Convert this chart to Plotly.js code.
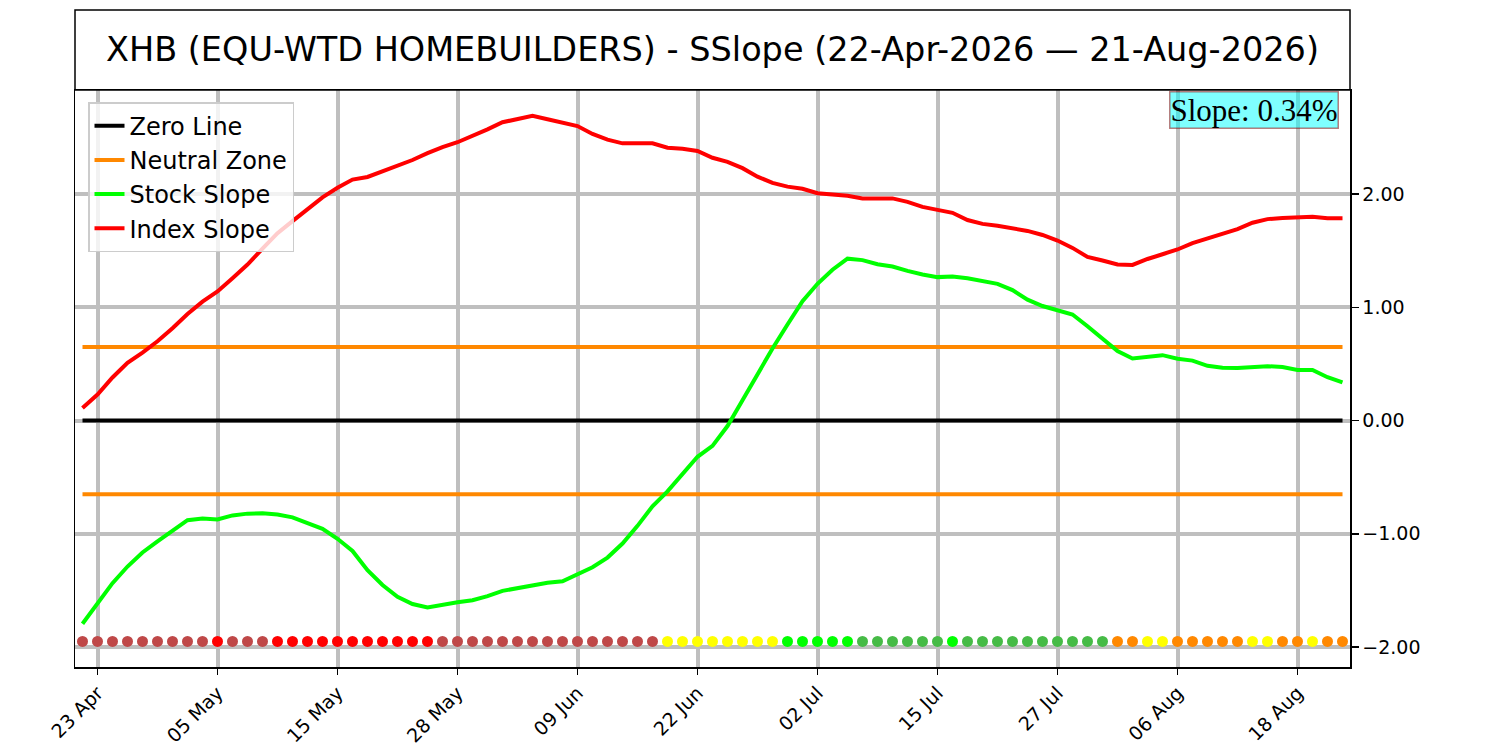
<!DOCTYPE html>
<html>
<head>
<meta charset="utf-8">
<script src="https://cdn.plot.ly/plotly-3.0.1.min.js"></script>
<style>
html,body{margin:0;padding:0;background:#fff;}
#chart{width:1500px;height:750px;}
</style>
</head>
<body>
<div id="chart"></div>
<script>
const dates = ['22 Apr','23 Apr','24 Apr','27 Apr','28 Apr','29 Apr','30 Apr',
'01 May','04 May','05 May','06 May','07 May','08 May','11 May','12 May','13 May','14 May','15 May','18 May','19 May','20 May','21 May','22 May','26 May','27 May','28 May','29 May',
'01 Jun','02 Jun','03 Jun','04 Jun','05 Jun','08 Jun','09 Jun','10 Jun','11 Jun','12 Jun','15 Jun','16 Jun','17 Jun','18 Jun','22 Jun','23 Jun','24 Jun','25 Jun','26 Jun','29 Jun','30 Jun',
'01 Jul','02 Jul','06 Jul','07 Jul','08 Jul','09 Jul','10 Jul','13 Jul','14 Jul','15 Jul','16 Jul','17 Jul','20 Jul','21 Jul','22 Jul','23 Jul','24 Jul','27 Jul','28 Jul','29 Jul','30 Jul','31 Jul',
'03 Aug','04 Aug','05 Aug','06 Aug','07 Aug','10 Aug','11 Aug','12 Aug','13 Aug','14 Aug','17 Aug','18 Aug','19 Aug','20 Aug','21 Aug'];

const tickLabels = ['23 Apr','05 May','15 May','28 May','09 Jun','22 Jun','02 Jul','15 Jul','27 Jul','06 Aug','18 Aug'];

const indexSlope = [0.11,0.23,0.38,0.51,0.60,0.70,0.815,0.94,1.05,1.14,1.256,1.377,1.517,1.654,1.76,1.87,1.97,2.055,2.127,2.15,
2.20,2.25,2.30,2.36,2.414,2.457,2.51,2.57,2.633,2.66,2.69,2.66,2.626,2.60,2.53,2.48,2.447,2.45,2.447,2.408,
2.40,2.38,2.32,2.284,2.228,2.153,2.098,2.065,2.046,2.007,1.997,1.984,1.961,1.964,1.961,1.93,1.886,1.86,1.834,1.77,
1.736,1.72,1.70,1.674,1.638,1.589,1.524,1.445,1.413,1.377,1.374,1.426,1.468,1.51,1.566,1.608,1.648,1.69,1.746,1.778,
1.788,1.79,1.80,1.785,1.785];

const stockSlope = [-1.794,-1.615,-1.436,-1.289,-1.165,-1.067,-0.972,-0.88,-0.865,-0.874,-0.838,-0.822,-0.819,-0.829,-0.855,-0.904,-0.956,-1.044,-1.152,-1.321,
-1.452,-1.556,-1.62,-1.65,-1.625,-1.605,-1.586,-1.55,-1.504,-1.481,-1.452,-1.432,-1.419,-1.36,-1.295,-1.21,-1.086,-0.93,-0.757,-0.626,
-0.473,-0.32,-0.224,-0.049,0.179,0.408,0.636,0.848,1.054,1.207,1.331,1.429,1.416,1.38,1.36,1.321,1.289,1.266,1.272,1.256,
1.23,1.207,1.152,1.067,1.011,0.976,0.936,0.832,0.728,0.613,0.548,0.561,0.577,0.545,0.529,0.483,0.467,0.463,0.473,0.48,
0.473,0.447,0.447,0.382,0.336];

// signal state per day: B=weak red(brown), R=red, Y=yellow, L=lime, G=green, O=orange
const signalStates = ['B','B','B','B','B','B','B','B','B','R','B','B','B','R','R','R','R','R','R','R',
'R','R','R','R','B','B','B','B','B','B','B','B','B','B','B','B','B','B','B','Y',
'Y','Y','Y','Y','Y','Y','Y','L','L','L','L','L','G','G','G','G','G','G','L','G',
'G','G','G','G','G','G','G','G','G','O','O','Y','Y','O','O','O','O','O','Y','Y',
'O','O','Y','O','O'];

const neutralLevel = 0.65;
const signalLevel = -1.95;
const yTicks = [-2, -1, 0, 1, 2];
const currentSlope = 0.34;

const stateColors = {B:'#bf4848', R:'#ff0000', Y:'#ffff00', L:'#00ff00', G:'#46bb46', O:'#ff8800'};

const first = dates[0], last = dates[dates.length-1];

const traces = [
  {x:[first,last], y:[0,0], mode:'lines', name:'Zero Line', line:{color:'#000000', width:4}},
  {x:[first,last], y:[neutralLevel,neutralLevel], mode:'lines', name:'Neutral Zone', legendgroup:'nz', line:{color:'#ff8800', width:4}},
  {x:[first,last], y:[-neutralLevel,-neutralLevel], mode:'lines', name:'Neutral Zone', legendgroup:'nz', showlegend:false, line:{color:'#ff8800', width:4}},
  {x:dates, y:stockSlope, mode:'lines', name:'Stock Slope', line:{color:'#00ff00', width:4}},
  {x:dates, y:indexSlope, mode:'lines', name:'Index Slope', line:{color:'#ff0000', width:4}},
  {x:dates, y:dates.map(()=>signalLevel), mode:'markers', showlegend:false,
   marker:{size:11, color:signalStates.map(s=>stateColors[s]), line:{width:0}}}
];

const plotTop = 90, plotBottom = 667, plotH = plotBottom - plotTop;

const layout = {
  width:1500, height:750,
  margin:{l:75, r:150, t:plotTop, b:750-plotBottom},
  paper_bgcolor:'#ffffff', plot_bgcolor:'#ffffff',
  font:{family:'DejaVu Sans', color:'#000'},
  showlegend:true,
  legend:{x:0.0102, y:0.979, xanchor:'left', yanchor:'top',
    bgcolor:'rgba(255,255,255,0.8)', bordercolor:'#cccccc', borderwidth:1.5,
    font:{family:'DejaVu Sans', size:24, color:'#000'}, tracegroupgap:0, itemwidth:30},
  xaxis:{type:'category', categoryorder:'array', categoryarray:dates,
    range:[-0.5, dates.length-0.5], tickmode:'array', tickvals:tickLabels, ticktext:tickLabels,
    tickangle:-45, ticks:'outside', ticklen:6, tickwidth:1.5, tickcolor:'#000',
    showgrid:true, gridcolor:'#bfbfbf', gridwidth:4, zeroline:false,
    showline:true, linecolor:'#000', linewidth:1.5, mirror:true,
    tickfont:{family:'DejaVu Sans', size:19, color:'#000'}},
  yaxis:{side:'right', range:[-2.176, 2.918], tickmode:'array', tickvals:yTicks, tickformat:'.2f',
    ticks:'outside', ticklen:7, tickwidth:1.5, tickcolor:'#000',
    showgrid:true, gridcolor:'#bfbfbf', gridwidth:4, zeroline:false,
    showline:true, linecolor:'#000', linewidth:1.5, mirror:true,
    tickfont:{family:'DejaVu Sans', size:19, color:'#000'}},
  shapes:[
    {type:'rect', xref:'paper', yref:'paper', x0:0, x1:1, y0:1, y1:1+80/plotH,
     line:{color:'#000', width:1.5}, fillcolor:'rgba(0,0,0,0)'}
  ],
  annotations:[
    {xref:'paper', yref:'paper', x:0.5, y:1+40/plotH, xanchor:'center', yanchor:'middle', showarrow:false,
     text:'XHB (EQU-WTD HOMEBUILDERS) - SSlope (22-Apr-2026 \u2014 21-Aug-2026)',
     font:{family:'DejaVu Sans', size:33.5, color:'#000'}},
    {xref:'paper', yref:'paper', x:(1339-75)/1275, y:1-1/plotH, xanchor:'right', yanchor:'top', showarrow:false,
     text:'Slope: ' + currentSlope.toFixed(2) + '%',
     font:{family:'Liberation Serif', size:31, color:'#000'},
     bgcolor:'rgba(0,255,255,0.5)', bordercolor:'rgba(139,0,0,0.5)', borderwidth:1.5, borderpad:0}
  ]
};

Plotly.newPlot('chart', traces, layout, {displayModeBar:false, staticPlot:true});
</script>
</body>
</html>
